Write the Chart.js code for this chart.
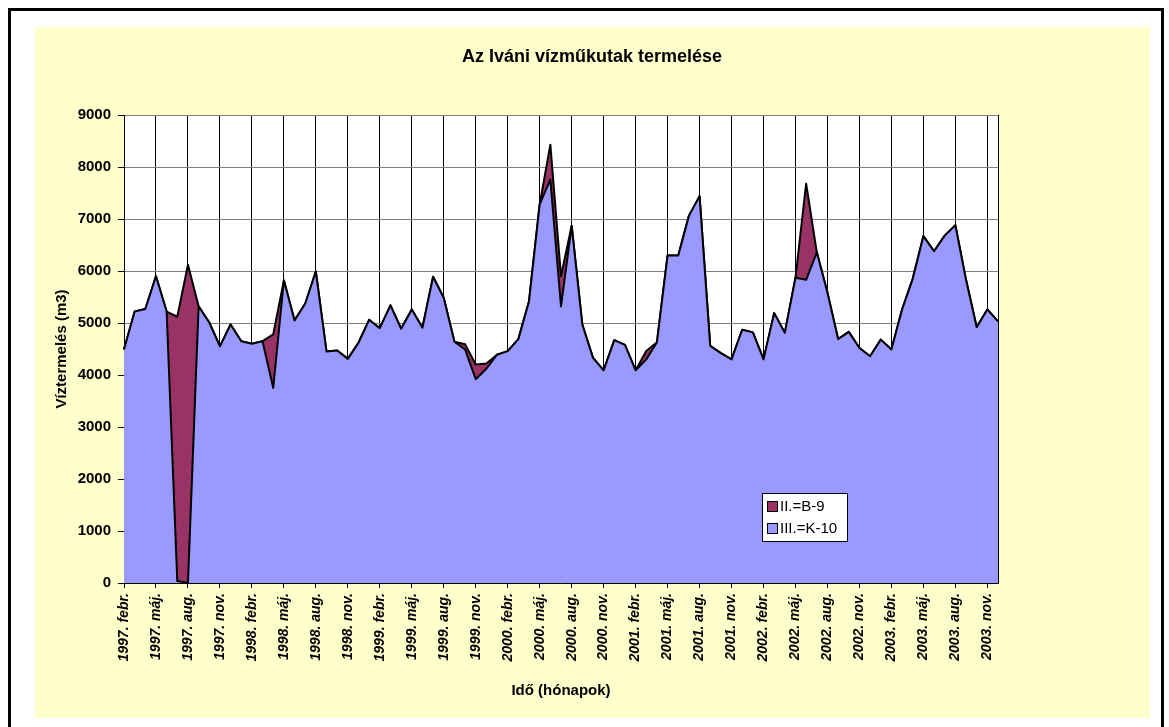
<!DOCTYPE html>
<html lang="hu">
<head>
<meta charset="utf-8">
<title>Az Iváni vízműkutak termelése</title>
<script src="https://cdn.jsdelivr.net/npm/chart.js@4.4.0/dist/chart.umd.min.js"></script>
<style>
    body { margin: 0; background: #fff; width: 1169px; height: 727px; overflow: hidden; position: relative; }
    #keret { position: absolute; left: 8px; top: 8px; width: 1156px; height: 760px; border: 3px solid #000; box-sizing: border-box; }
    #hatter { position: absolute; left: 35px; top: 27px; width: 1115px; height: 691px; background: #FFFFCC; }
    #grafikon { position: absolute; left: 0; top: 0; }
</style>
</head>
<body>
<div id="keret"></div>
<div id="hatter"></div>
<canvas id="grafikon" width="1169" height="727"></canvas>

<script>
// Adatok (1997. febr. - 2003. dec., havonta)
const evek = ['1997', '1998', '1999', '2000', '2001', '2002', '2003'];
const honapNevek = ['jan.', 'febr.', 'márc.', 'ápr.', 'máj.', 'jún.', 'júl.', 'aug.', 'szept.', 'okt.', 'nov.', 'dec.'];

const honapok = [];
evek.forEach(function (ev, e) {
    honapNevek.forEach(function (h, m) {
        if (e === 0 && m === 0) return; // 1997. jan. nincs
        honapok.push(ev + '. ' + h);
    });
});

// III.=K-10
const k10Adatok = [
    4490, 5220, 5270, 5900, 5220, 40, 0, 5320, 5010, 4550, 4970,
    4650, 4600, 4650, 3750, 5820, 5050, 5370, 5990, 4450, 4470, 4310, 4620,
    5060, 4900, 5340, 4890, 5260, 4910, 5890, 5480, 4640, 4490, 3920, 4120,
    4390, 4460, 4690, 5420, 7280, 7760, 5320, 6870, 4970, 4330, 4090, 4670,
    4580, 4090, 4300, 4630, 6300, 6300, 7060, 7440, 4560, 4420, 4300, 4870,
    4820, 4300, 5190, 4810, 5870, 5830, 6360, 5580, 4690, 4830, 4520, 4360,
    4680, 4490, 5260, 5850, 6670, 6380, 6680, 6880, 5830, 4920, 5260, 5030
];

// II.=B-9
const b9Adatok = [
    0, 0, 0, 0, 0, 5080, 6120, 0, 0, 0, 0,
    0, 0, 0, 1030, 0, 0, 0, 0, 0, 0, 0, 0,
    0, 0, 0, 0, 0, 0, 0, 0, 0, 100, 280, 100,
    0, 0, 0, 0, 0, 670, 580, 0, 0, 0, 0, 0,
    0, 0, 160, 0, 0, 0, 0, 0, 0, 0, 0, 0,
    0, 0, 0, 0, 0, 1850, 0, 0, 0, 0, 0, 0,
    0, 0, 0, 0, 0, 0, 0, 0, 0, 0, 0, 0
];

const yTengely = [0, 1000, 2000, 3000, 4000, 5000, 6000, 7000, 8000, 9000];

const betu = 'Arial, "Liberation Sans", sans-serif';
Chart.defaults.font.family = betu;
Chart.defaults.color = '#000';

// fehér rajzterület, jobb oldali vonal, cím, jelmagyarázat
const rajzPlugin = {
    id: 'rajzPlugin',
    beforeDraw: function (chart) {
        const c = chart.ctx, a = chart.chartArea;
        c.save();
        c.fillStyle = '#fff';
        c.fillRect(a.left, a.top, a.right - a.left, a.bottom - a.top);
        c.restore();
    },
    afterDraw: function (chart) {
        const c = chart.ctx, a = chart.chartArea;
        c.save();
        c.strokeStyle = '#000';
        c.lineWidth = 1;
        c.beginPath();
        c.moveTo(Math.round(a.right) + 0.5, a.top);
        c.lineTo(Math.round(a.right) + 0.5, a.bottom);
        c.stroke();

        c.fillStyle = '#000';
        c.font = 'bold 18px ' + betu;
        c.textAlign = 'center';
        c.textBaseline = 'middle';
        c.fillText('Az Iváni vízműkutak termelése', 592, 57);

        // jelmagyarázat
        c.fillStyle = '#fff';
        c.fillRect(762.5, 493.5, 85, 48);
        c.strokeRect(762.5, 493.5, 85, 48);
        const sorok = [chart.data.datasets[1], chart.data.datasets[0]];
        sorok.forEach(function (ds, i) {
            const y = 501.5 + i * 22;
            c.fillStyle = ds.backgroundColor;
            c.fillRect(767.5, y, 10, 10);
            c.strokeStyle = '#000';
            c.strokeRect(767.5, y, 10, 10);
            c.fillStyle = '#000';
            c.font = '15px ' + betu;
            c.textAlign = 'left';
            c.fillText(ds.label, 780, y + 5.5);
        });
        c.restore();
    }
};

const ctx = document.getElementById('grafikon').getContext('2d');
new Chart(ctx, {
    type: 'line',
    data: {
        labels: honapok,
        datasets: [
            {
                label: 'III.=K-10',
                data: k10Adatok,
                backgroundColor: '#9999FF',
                borderColor: '#000',
                borderWidth: 2,
                borderJoinStyle: 'round',
                fill: 'origin',
                pointRadius: 0,
                tension: 0
            },
            {
                label: 'II.=B-9',
                data: b9Adatok,
                backgroundColor: '#993366',
                borderColor: '#000',
                borderWidth: 2,
                borderJoinStyle: 'round',
                fill: '-1',
                pointRadius: 0,
                tension: 0
            }
        ]
    },
    options: {
        responsive: false,
        devicePixelRatio: 1,
        animation: false,
        layout: { padding: { left: 0, top: 115, right: 171, bottom: 0 } },
        plugins: {
            legend: { display: false },
            title: { display: false },
            tooltip: { enabled: false }
        },
        scales: {
            x: {
                afterFit: function (s) { s.height = 144; },
                grid: {
                    color: function (c) { return c.index % 3 === 0 ? '#000' : 'rgba(0,0,0,0)'; },
                    tickColor: function (c) { return c.index % 3 === 0 ? '#000' : 'rgba(0,0,0,0)'; },
                    tickLength: 5,
                    lineWidth: 1
                },
                border: { color: '#000', width: 1 },
                ticks: {
                    autoSkip: false,
                    minRotation: 90,
                    maxRotation: 90,
                    padding: 5,
                    font: { size: 14, weight: 'bold', style: 'italic' },
                    callback: function (v, i) { return i % 3 === 0 ? honapok[i] : ''; }
                },
                title: {
                    display: true,
                    text: 'Idő (hónapok)',
                    font: { size: 15, weight: 'bold' },
                    padding: { top: 0, bottom: 27 }
                }
            },
            y: {
                stacked: true,
                min: 0,
                max: 9000,
                afterFit: function (s) { s.width = 124; },
                afterBuildTicks: function (s) { s.ticks = yTengely.map(function (v) { return { value: v }; }); },
                grid: { color: '#808080', tickColor: '#000', tickLength: 6, lineWidth: 1 },
                border: { color: '#000', width: 1 },
                ticks: {
                    padding: 7,
                    font: { size: 15, weight: 'bold' },
                    callback: function (v) { return String(v); }
                },
                title: {
                    display: true,
                    text: 'Víztermelés (m3)',
                    font: { size: 15, weight: 'bold' },
                    padding: { top: 53, bottom: 0 }
                }
            }
        }
    },
    plugins: [rajzPlugin]
});
</script>
</body>
</html>
